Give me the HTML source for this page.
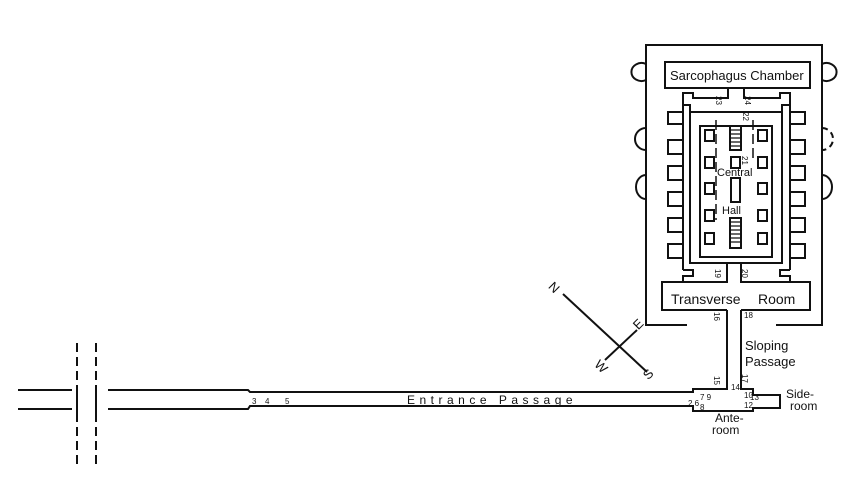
<!DOCTYPE html>
<html><head><meta charset="utf-8"><style>
html,body{margin:0;padding:0;background:#fff;}
svg{display:block;}
text{font-family:"Liberation Sans",sans-serif;fill:#111;}
</style></head><body>
<svg width="850" height="500" viewBox="0 0 850 500" xmlns="http://www.w3.org/2000/svg">
<g stroke="#111" stroke-width="2" fill="none">
<line x1="18" y1="390" x2="72" y2="390"/><line x1="18" y1="409" x2="72" y2="409"/>
<line x1="77" y1="343" x2="77" y2="465" stroke-dasharray="9,5"/>
<line x1="96" y1="343" x2="96" y2="465" stroke-dasharray="9,5"/>
<line x1="77" y1="385" x2="77" y2="414"/><line x1="96" y1="385" x2="96" y2="414"/>
<polyline points="108,390 248,390 250,392 693,392 693,389 727,389 727,310"/>
<polyline points="108,409 248,409 250,406 693,406 693,411 753,411 753,408 780,408 780,395 753,395 753,389 741,389 741,310"/>
<polyline points="687,325 646,325 646,45 822,45 822,325 776,325"/>
<polyline points="727,310 662,310 662,282 727,282 727,263"/>
<polyline points="741,310 810,310 810,282 741,282 741,263"/>
<rect x="665" y="62" width="145" height="26"/>
<rect x="690" y="112" width="92" height="151"/>
<rect x="700" y="126" width="72" height="131"/>
<polyline points="690,112 690,105 683,105 683,93 693,93 693,98 728,98 728,88"/>
<polyline points="782,112 782,105 790,105 790,93 780,93 780,98 744,98 744,88"/>
<line x1="683" y1="105" x2="683" y2="270"/>
<line x1="790" y1="105" x2="790" y2="270"/>
<polyline points="683,270 693,270 693,276 683,276 683,282"/>
<polyline points="790,270 780,270 780,276 790,276 790,282"/>
</g>
<g stroke="#111" stroke-width="2" fill="none">
<path d="M683,112h-15v12h15 M683,140h-15v14h15 M683,166h-15v14h15 M683,192h-15v14h15 M683,218h-15v14h15 M683,244h-15v14h15"/>
<path d="M790,112h15v12h-15 M790,140h15v14h-15 M790,166h15v14h-15 M790,192h15v14h-15 M790,218h15v14h-15 M790,244h15v14h-15"/>
<rect x="705" y="130" width="9" height="11"/><rect x="758" y="130" width="9" height="11"/>
<rect x="705" y="157" width="9" height="11"/><rect x="731" y="157" width="9" height="11"/><rect x="758" y="157" width="9" height="11"/>
<rect x="705" y="183" width="9" height="11"/><rect x="731" y="178" width="9" height="24"/><rect x="758" y="183" width="9" height="11"/>
<rect x="705" y="210" width="9" height="11"/><rect x="758" y="210" width="9" height="11"/>
<rect x="705" y="233" width="9" height="11"/><rect x="758" y="233" width="9" height="11"/>
<rect x="730" y="126" width="11" height="24"/>
<path d="M730,130h11M730,134h11M730,138h11M730,142h11M730,146h11" stroke-width="1.2"/>
<rect x="730" y="218" width="11" height="30"/>
<path d="M730,222h11M730,226h11M730,230h11M730,234h11M730,238h11M730,242h11" stroke-width="1.2"/>
<line x1="716" y1="120" x2="716" y2="220" stroke-dasharray="10,4" stroke-width="1.5"/>
<line x1="753" y1="120" x2="753" y2="160" stroke-dasharray="10,4" stroke-width="1.5"/>
<path d="M646,64 A10,9 0 1 0 646,80"/>
<path d="M822,64 A10,9 0 1 1 822,80"/>
<path d="M646,128 A11,11 0 1 0 646,150"/>
<path d="M822,128 A11,11 0 1 1 822,150" stroke-dasharray="6,4"/>
<path d="M646,175 A10,12 0 0 0 646,199"/>
<path d="M822,175 A10,12 0 0 1 822,199"/>
<line x1="563" y1="294" x2="647" y2="372"/>
<line x1="637" y1="330" x2="605" y2="360"/>
</g>
<g font-size="13">
<text x="670" y="80" font-size="13">Sarcophagus Chamber</text>
<text x="671" y="304" font-size="14">Transverse</text>
<text x="758" y="304" font-size="14">Room</text>
<text x="717" y="176" font-size="11">Central</text>
<text x="722" y="214" font-size="11">Hall</text>
<text x="745" y="350">Sloping</text>
<text x="745" y="366">Passage</text>
<text x="786" y="398" font-size="12">Side-</text>
<text x="790" y="410" font-size="12">room</text>
<text x="715" y="422" font-size="12">Ante-</text>
<text x="712" y="434" font-size="12">room</text>
<text x="407" y="404" font-size="12" letter-spacing="4.5">Entrance  Passage</text>
<text x="549" y="292" transform="rotate(45 554 288)">N</text>
<text x="634" y="328" transform="rotate(-45 639 324)">E</text>
<text x="644" y="378" transform="rotate(-45 649 374)">S</text>
<text x="595" y="370" transform="rotate(45 600 366)">W</text>
</g>
<g font-size="8">
<text x="252" y="404">3</text><text x="265" y="404">4</text><text x="285" y="404">5</text>
<text x="718" y="102" transform="rotate(90 720 98)">23</text>
<text x="747" y="102" transform="rotate(90 749 98)">24</text>
<text x="745" y="118" transform="rotate(90 747 114)">22</text>
<text x="744" y="162" transform="rotate(90 746 158)">21</text>
<text x="717" y="275" transform="rotate(90 719 271)">19</text>
<text x="744" y="275" transform="rotate(90 746 271)">20</text>
<text x="716" y="318" transform="rotate(90 718 314)">16</text>
<text x="744" y="318">18</text>
<text x="716" y="382" transform="rotate(90 718 378)">15</text>
<text x="744" y="380" transform="rotate(90 746 376)">17</text>
<text x="731" y="390">14</text>
<text x="700" y="400">7 9</text><text x="688" y="406">2 6</text><text x="700" y="410">8</text>
<text x="744" y="398">10</text><text x="744" y="408">12</text><text x="750" y="400">13</text>
</g>
</svg>
</body></html>
